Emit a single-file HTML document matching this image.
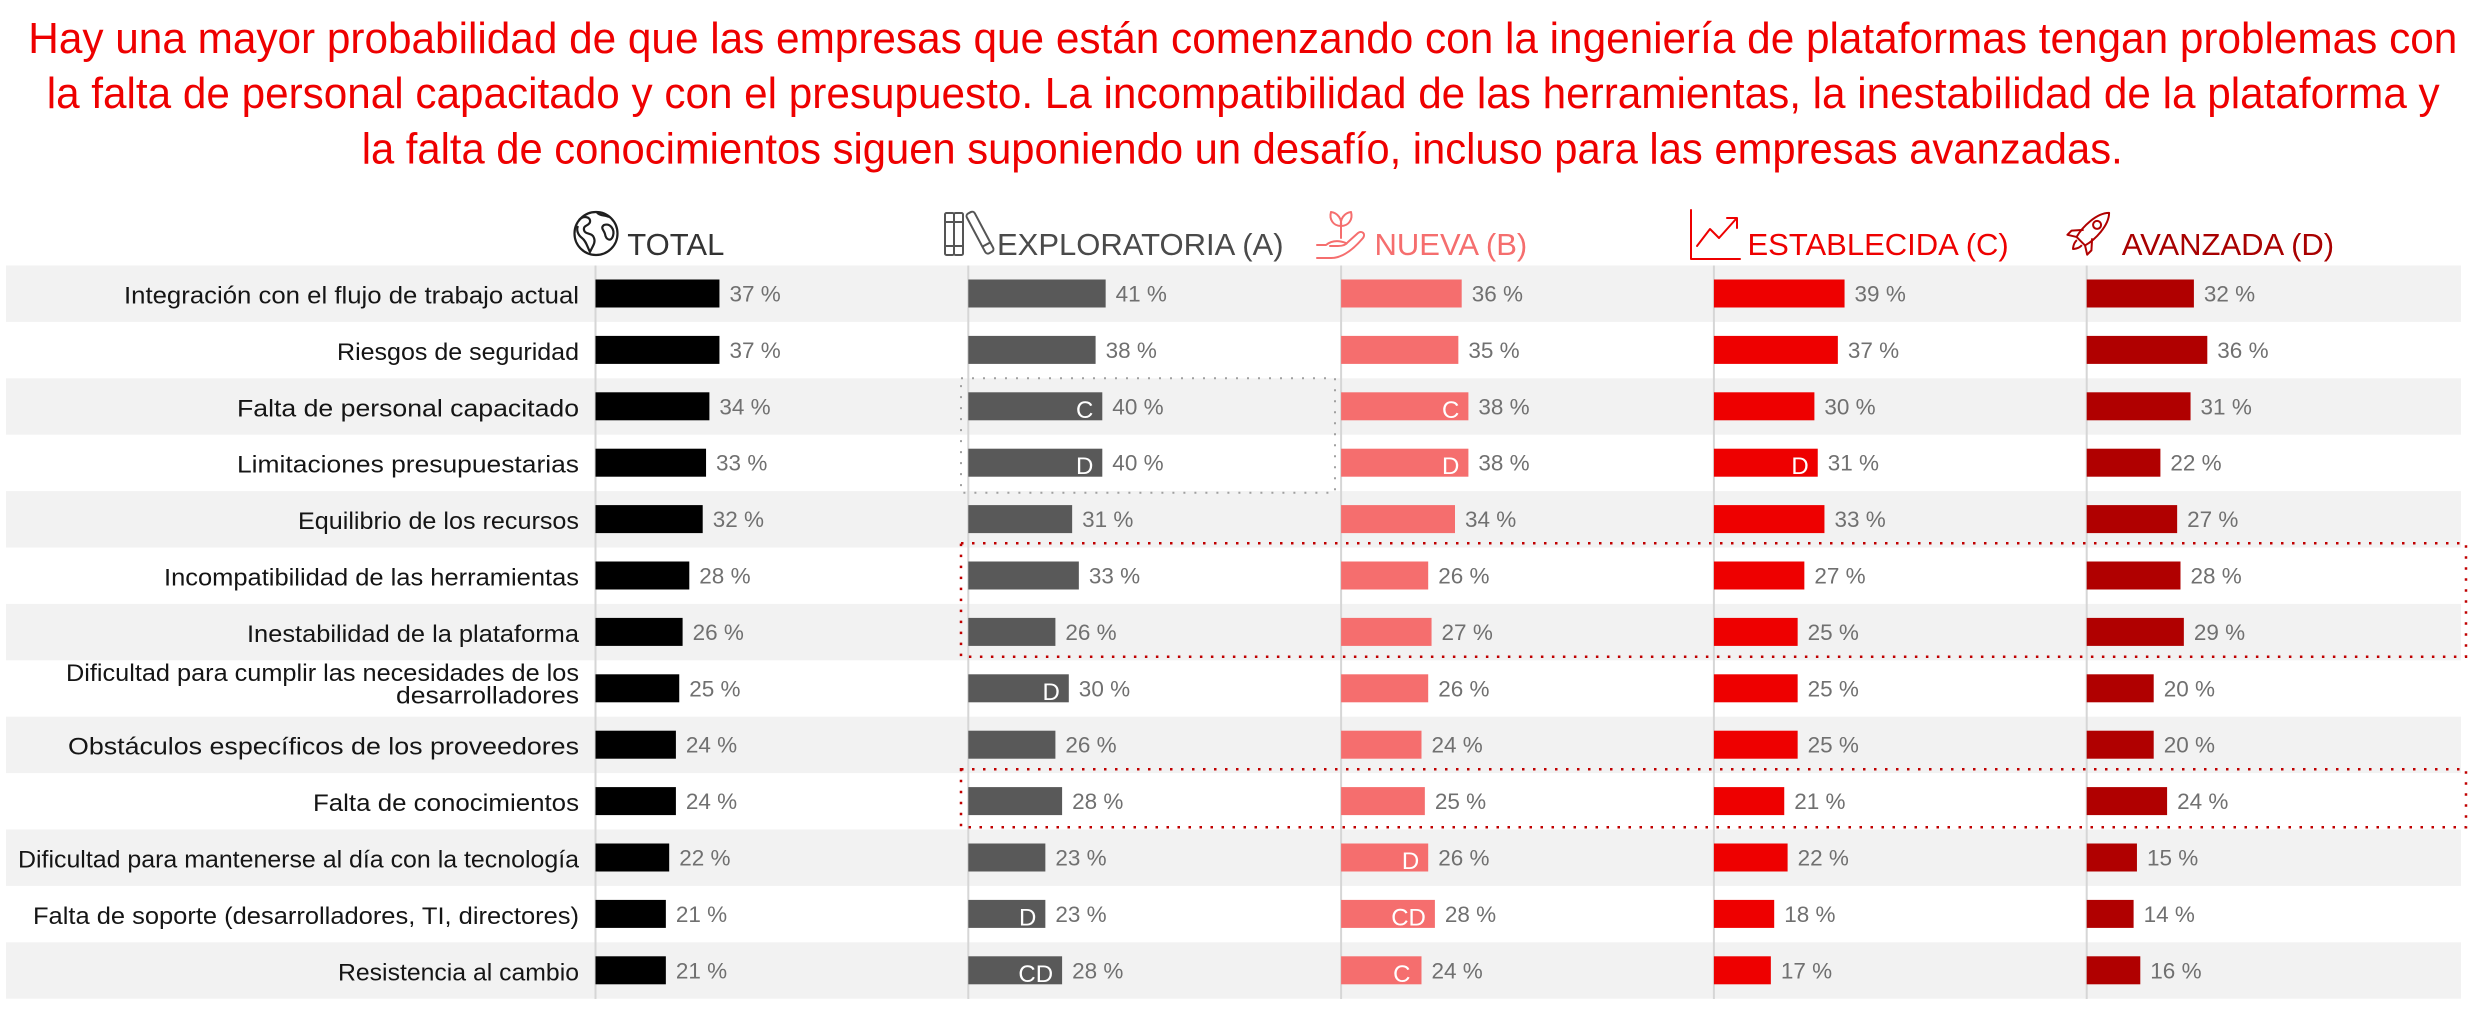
<!DOCTYPE html>
<html>
<head>
<meta charset="utf-8">
<style>
html,body{margin:0;padding:0;background:#fff;}
svg{display:block;}
.t{font-family:"Liberation Sans",sans-serif;}
</style>
</head>
<body>
<svg width="2476" height="1020" viewBox="0 0 2476 1020" xmlns="http://www.w3.org/2000/svg">
<rect x="0" y="0" width="2476" height="1020" fill="#fff"/>

<!-- Title -->
<g class="t" font-family="Liberation Sans, sans-serif" font-size="44" fill="#ee0000">
<text x="28.3" y="53" textLength="2429" lengthAdjust="spacingAndGlyphs">Hay una mayor probabilidad de que las empresas que están comenzando con la ingeniería de plataformas tengan problemas con</text>
<text x="46.7" y="108" textLength="2393" lengthAdjust="spacingAndGlyphs">la falta de personal capacitado y con el presupuesto. La incompatibilidad de las herramientas, la inestabilidad de la plataforma y</text>
<text x="361.7" y="163.5" textLength="1761" lengthAdjust="spacingAndGlyphs">la falta de conocimientos siguen suponiendo un desafío, incluso para las empresas avanzadas.</text>
</g>

<!-- Bands -->
<g fill="#f2f2f2">
<rect x="6" y="265.5" width="2455" height="56.4"/>
<rect x="6" y="378.3" width="2455" height="56.4"/>
<rect x="6" y="491.1" width="2455" height="56.4"/>
<rect x="6" y="603.9" width="2455" height="56.4"/>
<rect x="6" y="716.7" width="2455" height="56.4"/>
<rect x="6" y="829.5" width="2455" height="56.4"/>
<rect x="6" y="942.3" width="2455" height="56.4"/>
</g>

<!-- Axis lines -->
<g fill="#d6d6d6">
<rect x="594.5" y="265.5" width="2" height="733.5"/>
<rect x="967.3" y="265.5" width="2" height="733.5"/>
<rect x="1340.1" y="265.5" width="2" height="733.5"/>
<rect x="1712.9" y="265.5" width="2" height="733.5"/>
<rect x="2085.7" y="265.5" width="2" height="733.5"/>
</g>

<!-- Headers -->
<g font-family="Liberation Sans, sans-serif" font-size="31">
<text x="627.3" y="255" fill="#333333">TOTAL</text>
<text x="997" y="255" fill="#4a4a4a">EXPLORATORIA (A)</text>
<text x="1374.5" y="255" fill="#f56e6e">NUEVA (B)</text>
<text x="1747.5" y="255" fill="#ee0000">ESTABLECIDA (C)</text>
<text x="2121.7" y="255" fill="#a80000">AVANZADA (D)</text>
</g>

<!-- Icons -->
<!-- globe -->
<g fill="none" stroke="#1f1f1f" stroke-width="2.2" stroke-linejoin="round">
<circle cx="596" cy="233.5" r="21.5"/>
<path d="M579,220 C584,215 591,217 590,222 C589,226 583,225 584,230 C585,235 592,232 594,238 C596,243 592,247 590,252 C587,246 586,241 582,238 C578,235 576,230 578,226"/>
<path d="M604,225 C610,223 615,229 613,236 C611,242 606,240 605,234 C604,230 600,228 604,225 Z"/>
<path d="M597,212.5 C600,216 605,215 609,217"/>
</g>
<!-- books -->
<g fill="none" stroke="#555" stroke-width="2" stroke-linejoin="round">
<rect x="945" y="213" width="9" height="42" rx="1.5"/>
<rect x="954" y="213" width="9" height="42" rx="1.5"/>
<path d="M945,222 H963 M945,246 H963"/>
<g transform="translate(969,213) rotate(-28)">
<rect x="-4" y="0" width="9" height="45" rx="3"/>
<path d="M-4,36 H5"/>
</g>
</g>
<!-- hand + sprout -->
<g fill="none" stroke="#f56e6e" stroke-width="2" stroke-linejoin="round" stroke-linecap="round">
<path d="M1341,238 V226"/>
<path d="M1341,226 C1333,226 1329,219 1331,212 C1338,213 1342,219 1341,226 Z"/>
<path d="M1341,226 C1349,226 1353,219 1351,212 C1344,213 1340,219 1341,226 Z"/>
<path d="M1317,258 H1331 C1341,258 1352,251 1363,238 C1366,234 1362,230 1358,233 L1348,242 C1346,245 1343,246 1338,246 H1330"/>
<path d="M1317,245 H1326 C1331,241 1338,240 1346,243"/>
</g>
<!-- chart -->
<g fill="none" stroke="#ee0000" stroke-width="2" stroke-linejoin="round" stroke-linecap="round">
<path d="M1691,210 V259 H1740"/>
<path d="M1697,246 L1710,229 L1719,238 L1736,219"/>
<path d="M1727,218 H1737 V228"/>
</g>
<!-- rocket -->
<g fill="none" stroke="#b00000" stroke-width="2" stroke-linejoin="round" transform="translate(2090,232) rotate(45)">
<path d="M0,-27 C9,-18 9,2 6,13 H-6 C-9,2 -9,-18 0,-27 Z"/>
<circle cx="0" cy="-10" r="4"/>
<path d="M-6,3 L-14,12 L-14,18 L-6,13"/>
<path d="M6,3 L14,12 L14,18 L6,13"/>
<path d="M-3.5,15 C-4,20 0,24 0,24 C0,24 4,20 3.5,15"/>
</g>

<!-- Row labels -->
<g font-family="Liberation Sans, sans-serif" font-size="24" fill="#151515" text-anchor="end">
<text x="579" y="303.5" textLength="455" lengthAdjust="spacingAndGlyphs">Integración con el flujo de trabajo actual</text>
<text x="579" y="359.9" textLength="242" lengthAdjust="spacingAndGlyphs">Riesgos de seguridad</text>
<text x="579" y="416.3" textLength="342" lengthAdjust="spacingAndGlyphs">Falta de personal capacitado</text>
<text x="579" y="472.7" textLength="342" lengthAdjust="spacingAndGlyphs">Limitaciones presupuestarias</text>
<text x="579" y="529.1" textLength="281" lengthAdjust="spacingAndGlyphs">Equilibrio de los recursos</text>
<text x="579" y="585.5" textLength="415" lengthAdjust="spacingAndGlyphs">Incompatibilidad de las herramientas</text>
<text x="579" y="641.9" textLength="332" lengthAdjust="spacingAndGlyphs">Inestabilidad de la plataforma</text>
<text x="579" y="681" textLength="513" lengthAdjust="spacingAndGlyphs">Dificultad para cumplir las necesidades de los</text>
<text x="579" y="703.5" textLength="183" lengthAdjust="spacingAndGlyphs">desarrolladores</text>
<text x="579" y="754.7" textLength="511" lengthAdjust="spacingAndGlyphs">Obstáculos específicos de los proveedores</text>
<text x="579" y="811.1" textLength="266" lengthAdjust="spacingAndGlyphs">Falta de conocimientos</text>
<text x="579" y="867.5" textLength="561" lengthAdjust="spacingAndGlyphs">Dificultad para mantenerse al día con la tecnología</text>
<text x="579" y="923.9" textLength="546" lengthAdjust="spacingAndGlyphs">Falta de soporte (desarrolladores, TI, directores)</text>
<text x="579" y="980.3" textLength="241" lengthAdjust="spacingAndGlyphs">Resistencia al cambio</text>
</g>

<!-- TOTAL column -->
<g transform="translate(595.5,0)">
<g fill="#000">
<rect y="279.5" width="123.95" height="28"/>
<rect y="335.9" width="123.95" height="28"/>
<rect y="392.3" width="113.9" height="28"/>
<rect y="448.7" width="110.55" height="28"/>
<rect y="505.1" width="107.2" height="28"/>
<rect y="561.5" width="93.8" height="28"/>
<rect y="617.9" width="87.1" height="28"/>
<rect y="674.3" width="83.75" height="28"/>
<rect y="730.7" width="80.4" height="28"/>
<rect y="787.1" width="80.4" height="28"/>
<rect y="843.5" width="73.7" height="28"/>
<rect y="899.9" width="70.35" height="28"/>
<rect y="956.3" width="70.35" height="28"/>
</g>
<g font-family="Liberation Sans, sans-serif" font-size="22.5" fill="#707070">
<text x="133.95" y="301.5">37 %</text>
<text x="133.95" y="357.9">37 %</text>
<text x="123.9" y="414.3">34 %</text>
<text x="120.55" y="470.7">33 %</text>
<text x="117.2" y="527.1">32 %</text>
<text x="103.8" y="583.5">28 %</text>
<text x="97.1" y="639.9">26 %</text>
<text x="93.75" y="696.3">25 %</text>
<text x="90.4" y="752.7">24 %</text>
<text x="90.4" y="809.1">24 %</text>
<text x="83.7" y="865.5">22 %</text>
<text x="80.35" y="921.9">21 %</text>
<text x="80.35" y="978.3">21 %</text>
</g>
</g>

<!-- EXPLORATORIA column -->
<g transform="translate(968.3,0)">
<g fill="#595959">
<rect y="279.5" width="137.35" height="28"/>
<rect y="335.9" width="127.3" height="28"/>
<rect y="392.3" width="134" height="28"/>
<rect y="448.7" width="134" height="28"/>
<rect y="505.1" width="103.85" height="28"/>
<rect y="561.5" width="110.55" height="28"/>
<rect y="617.9" width="87.1" height="28"/>
<rect y="674.3" width="100.5" height="28"/>
<rect y="730.7" width="87.1" height="28"/>
<rect y="787.1" width="93.8" height="28"/>
<rect y="843.5" width="77.05" height="28"/>
<rect y="899.9" width="77.05" height="28"/>
<rect y="956.3" width="93.8" height="28"/>
</g>
<g font-family="Liberation Sans, sans-serif" font-size="22.5" fill="#707070">
<text x="147.35" y="301.5">41 %</text>
<text x="137.3" y="357.9">38 %</text>
<text x="144" y="414.3">40 %</text>
<text x="144" y="470.7">40 %</text>
<text x="113.85" y="527.1">31 %</text>
<text x="120.55" y="583.5">33 %</text>
<text x="97.1" y="639.9">26 %</text>
<text x="110.5" y="696.3">30 %</text>
<text x="97.1" y="752.7">26 %</text>
<text x="103.8" y="809.1">28 %</text>
<text x="87.05" y="865.5">23 %</text>
<text x="87.05" y="921.9">23 %</text>
<text x="103.8" y="978.3">28 %</text>
</g>
<g font-family="Liberation Sans, sans-serif" font-size="24" fill="#fff" text-anchor="end">
<text x="125" y="417.8">C</text>
<text x="125" y="474.2">D</text>
<text x="91.5" y="699.8">D</text>
<text x="68.05" y="925.4">D</text>
<text x="84.8" y="981.8">CD</text>
</g>
</g>

<!-- NUEVA column -->
<g transform="translate(1341.1,0)">
<g fill="#f56e6e">
<rect y="279.5" width="120.6" height="28"/>
<rect y="335.9" width="117.25" height="28"/>
<rect y="392.3" width="127.3" height="28"/>
<rect y="448.7" width="127.3" height="28"/>
<rect y="505.1" width="113.9" height="28"/>
<rect y="561.5" width="87.1" height="28"/>
<rect y="617.9" width="90.45" height="28"/>
<rect y="674.3" width="87.1" height="28"/>
<rect y="730.7" width="80.4" height="28"/>
<rect y="787.1" width="83.75" height="28"/>
<rect y="843.5" width="87.1" height="28"/>
<rect y="899.9" width="93.8" height="28"/>
<rect y="956.3" width="80.4" height="28"/>
</g>
<g font-family="Liberation Sans, sans-serif" font-size="22.5" fill="#707070">
<text x="130.6" y="301.5">36 %</text>
<text x="127.25" y="357.9">35 %</text>
<text x="137.3" y="414.3">38 %</text>
<text x="137.3" y="470.7">38 %</text>
<text x="123.9" y="527.1">34 %</text>
<text x="97.1" y="583.5">26 %</text>
<text x="100.45" y="639.9">27 %</text>
<text x="97.1" y="696.3">26 %</text>
<text x="90.4" y="752.7">24 %</text>
<text x="93.75" y="809.1">25 %</text>
<text x="97.1" y="865.5">26 %</text>
<text x="103.8" y="921.9">28 %</text>
<text x="90.4" y="978.3">24 %</text>
</g>
<g font-family="Liberation Sans, sans-serif" font-size="24" fill="#fff" text-anchor="end">
<text x="118.3" y="417.8">C</text>
<text x="118.3" y="474.2">D</text>
<text x="78.1" y="869">D</text>
<text x="84.8" y="925.4">CD</text>
<text x="69.4" y="981.8">C</text>
</g>
</g>

<!-- ESTABLECIDA column -->
<g transform="translate(1713.9,0)">
<g fill="#ee0000">
<rect y="279.5" width="130.65" height="28"/>
<rect y="335.9" width="123.95" height="28"/>
<rect y="392.3" width="100.5" height="28"/>
<rect y="448.7" width="103.85" height="28"/>
<rect y="505.1" width="110.55" height="28"/>
<rect y="561.5" width="90.45" height="28"/>
<rect y="617.9" width="83.75" height="28"/>
<rect y="674.3" width="83.75" height="28"/>
<rect y="730.7" width="83.75" height="28"/>
<rect y="787.1" width="70.35" height="28"/>
<rect y="843.5" width="73.7" height="28"/>
<rect y="899.9" width="60.3" height="28"/>
<rect y="956.3" width="56.95" height="28"/>
</g>
<g font-family="Liberation Sans, sans-serif" font-size="22.5" fill="#707070">
<text x="140.65" y="301.5">39 %</text>
<text x="133.95" y="357.9">37 %</text>
<text x="110.5" y="414.3">30 %</text>
<text x="113.85" y="470.7">31 %</text>
<text x="120.55" y="527.1">33 %</text>
<text x="100.45" y="583.5">27 %</text>
<text x="93.75" y="639.9">25 %</text>
<text x="93.75" y="696.3">25 %</text>
<text x="93.75" y="752.7">25 %</text>
<text x="80.35" y="809.1">21 %</text>
<text x="83.7" y="865.5">22 %</text>
<text x="70.3" y="921.9">18 %</text>
<text x="66.95" y="978.3">17 %</text>
</g>
<g font-family="Liberation Sans, sans-serif" font-size="24" fill="#fff" text-anchor="end">
<text x="94.85" y="474.2">D</text>
</g>
</g>

<!-- AVANZADA column -->
<g transform="translate(2086.7,0)">
<g fill="#b00000">
<rect y="279.5" width="107.2" height="28"/>
<rect y="335.9" width="120.6" height="28"/>
<rect y="392.3" width="103.85" height="28"/>
<rect y="448.7" width="73.7" height="28"/>
<rect y="505.1" width="90.45" height="28"/>
<rect y="561.5" width="93.8" height="28"/>
<rect y="617.9" width="97.15" height="28"/>
<rect y="674.3" width="67" height="28"/>
<rect y="730.7" width="67" height="28"/>
<rect y="787.1" width="80.4" height="28"/>
<rect y="843.5" width="50.25" height="28"/>
<rect y="899.9" width="46.9" height="28"/>
<rect y="956.3" width="53.6" height="28"/>
</g>
<g font-family="Liberation Sans, sans-serif" font-size="22.5" fill="#707070">
<text x="117.2" y="301.5">32 %</text>
<text x="130.6" y="357.9">36 %</text>
<text x="113.85" y="414.3">31 %</text>
<text x="83.7" y="470.7">22 %</text>
<text x="100.45" y="527.1">27 %</text>
<text x="103.8" y="583.5">28 %</text>
<text x="107.15" y="639.9">29 %</text>
<text x="77" y="696.3">20 %</text>
<text x="77" y="752.7">20 %</text>
<text x="90.4" y="809.1">24 %</text>
<text x="60.25" y="865.5">15 %</text>
<text x="56.9" y="921.9">14 %</text>
<text x="63.6" y="978.3">16 %</text>
</g>
</g>

<!-- Dotted highlight boxes -->
<rect x="961" y="378.3" width="374" height="114.4" fill="none" stroke="#a0a0a0" stroke-width="2" stroke-dasharray="2 9"/>
<rect x="961" y="543.3" width="1505" height="113.4" fill="none" stroke="#c00000" stroke-width="2.5" stroke-dasharray="2.5 8.5"/>
<rect x="961" y="769.3" width="1505" height="58" fill="none" stroke="#c00000" stroke-width="2.5" stroke-dasharray="2.5 8.5"/>
</svg>
</body>
</html>
